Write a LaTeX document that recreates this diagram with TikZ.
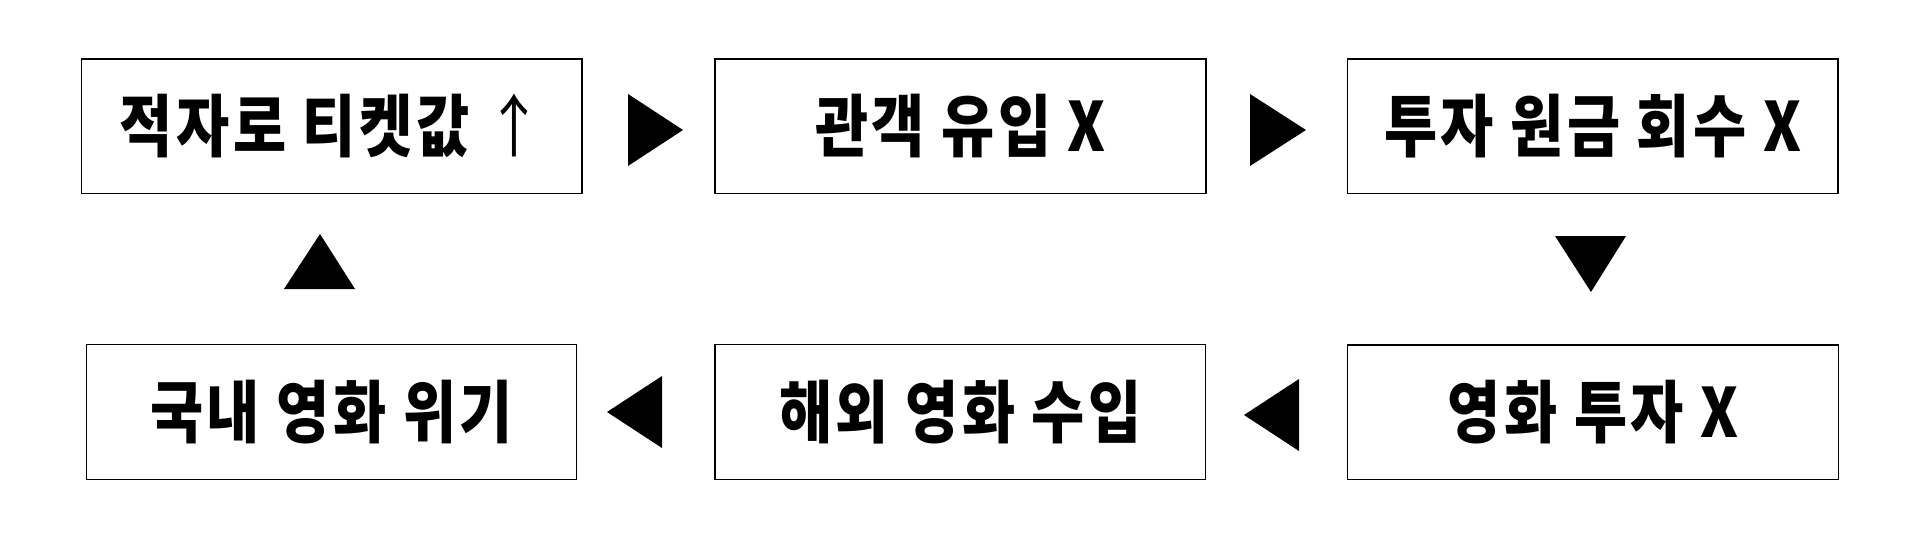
\documentclass[tikz,border=0pt]{standalone}
\usepackage{fontspec}
\newfontfamily\kr{Noto Sans CJK KR}[FakeStretch=0.85,LetterSpace=5]
\newcommand{\uparr}{{\mdseries\fontsize{34}{38}\selectfont ↑}}
\tikzset{
  box/.style={draw=black, line width=0.6pt, inner sep=0pt, outer sep=0pt,
    minimum height=67.35pt, font=\kr\bfseries\fontsize{34}{38}\selectfont, text=black},
  tri/.style={fill=black, draw=none}
}
\begin{document}
\begin{tikzpicture}[x=0.5pt,y=-0.5pt]
\useasboundingbox (0,0) rectangle (1920,540);
% top row
\node[box, minimum width=250.15pt] (b1) at (331.85,126.35) {적자로 티켓값 \uparr};
\node[box, minimum width=245.5pt] (b2) at (960.5,126.35) {관객 유입 X};
\node[box, minimum width=245.25pt] (b3) at (1592.75,126.35) {투자 원금 회수 X};
% bottom row
\node[box, minimum width=245.15pt] (b4) at (331.65,412.2) {국내 영화 위기};
\node[box, minimum width=245.35pt] (b5) at (960.35,412.2) {해외 영화 수입};
\node[box, minimum width=245.55pt] (b6) at (1593.15,412.4) {영화 투자 X};
% triangle markers between the boxes
\fill[tri] (628,94) -- (628,166) -- (683,130) -- cycle;
\fill[tri] (1250,94) -- (1250,166) -- (1306,130) -- cycle;
\fill[tri] (1555,236) -- (1626,236) -- (1591,292) -- cycle;
\fill[tri] (1299,379) -- (1299,451) -- (1244,415) -- cycle;
\fill[tri] (662,376) -- (662,448) -- (607,412) -- cycle;
\fill[tri] (284,289) -- (355,289) -- (320,234) -- cycle;
\end{tikzpicture}
\end{document}
